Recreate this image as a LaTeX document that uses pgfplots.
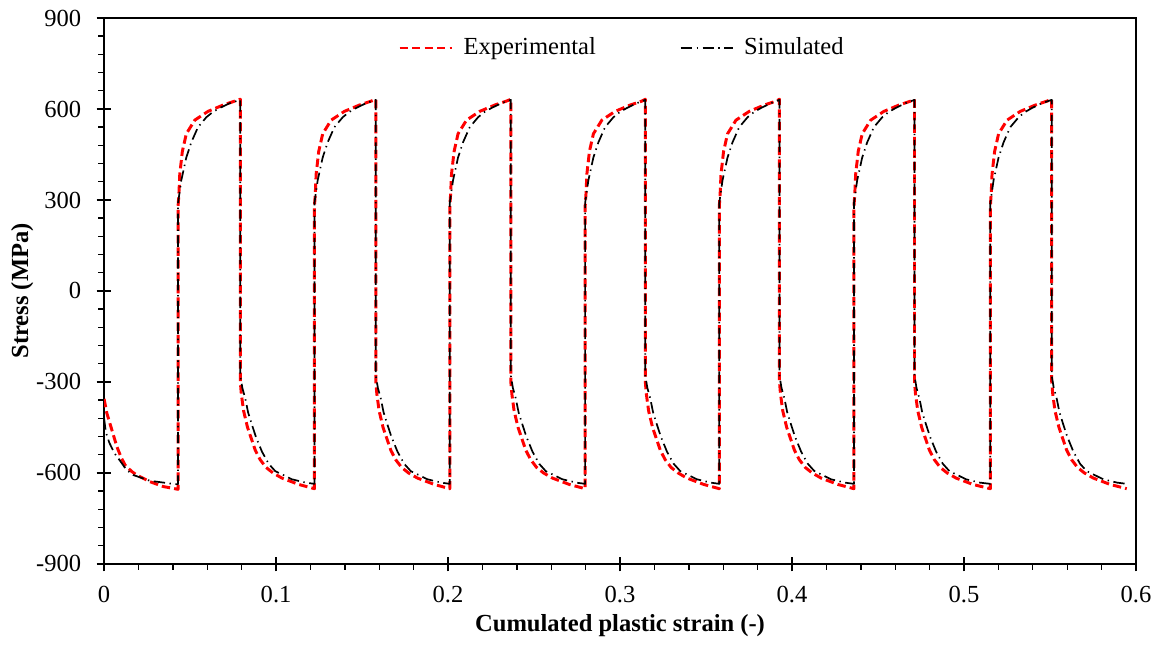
\documentclass[border=0pt]{standalone}
\usepackage{fontspec}
\setmainfont{Liberation Serif}
\usepackage{pgfplots}
\pgfplotsset{compat=1.18}
\begin{document}
\fontsize{10.8}{13}\selectfont
\begin{tikzpicture}
\begin{axis}[
  scale only axis, width=454pt, height=240.2pt,
  xmin=0, xmax=0.6, ymin=-900, ymax=900,
  xtick={0,0.1,0.2,0.3,0.4,0.5,0.6}, xticklabels={0,0.1,0.2,0.3,0.4,0.5,0.6},
  ytick={-900,-600,-300,0,300,600,900}, yticklabels={-900,-600,-300,0,300,600,900},
  minor x tick num=4, minor y tick num=4,
  tick align=outside, tick pos=left,
  major tick length=3.3pt, minor tick length=2.5pt,
  extra x ticks={0.1,0.2,0.3,0.4,0.5}, extra x tick labels={},
  extra x tick style={tick align=inside, major tick length=3pt},
  extra y ticks={-600,-300,0,300,600}, extra y tick labels={},
  extra y tick style={tick align=inside, major tick length=3pt},
  axis line style={line width=0.9pt},
  every tick/.style={black, line width=0.6pt},
  tick label style={font=\fontsize{10.8}{13}\selectfont},
  xticklabel style={yshift=-2.5pt},
  yticklabel style={xshift=-3pt},
  xlabel={\textbf{Cumulated plastic strain (-)}},
  ylabel={\textbf{Stress (MPa)}},
  every axis x label/.style={at={(axis description cs:0.5,0)}, yshift=-18.5pt, anchor=north, font=\fontsize{10.8}{13}\selectfont},
  every axis y label/.style={at={(axis description cs:0,0.5)}, xshift=-36pt, rotate=90, anchor=center, font=\fontsize{10.8}{13}\selectfont},
  legend style={at={(0.503,0.945)}, anchor=center, draw=none, fill=none,
    legend columns=2, /tikz/every even column/.append style={column sep=35pt},
    /tikz/every odd column/.append style={column sep=2.5pt},
    font=\fontsize{10.8}{13}\selectfont},
  legend image code/.code={\draw[#1] (0pt,0pt) -- (23pt,0pt);},
]
\addplot[red, line width=1.3pt, dash pattern=on 3.7pt off 1.8pt, line join=round] coordinates {
(0,-356) (0.0016,-403) (0.0045,-458) (0.0074,-513) (0.0100,-550) (0.0122,-574) (0.0160,-595) (0.0190,-607) (0.0267,-629) (0.0345,-645) (0.0430,-654)
(0.0430,278) (0.0435,320) (0.0440,385) (0.0455,460) (0.0478,518) (0.0527,563) (0.0604,592) (0.0692,613) (0.0760,626) (0.0792,632)
(0.0792,-300) (0.0798,-340) (0.0811,-395) (0.0834,-450) (0.0879,-525) (0.0907,-556) (0.0942,-582) (0.0982,-600) (0.1034,-617) (0.1132,-638) (0.1223,-652)
(0.1223,278) (0.1228,320) (0.1233,385) (0.1248,460) (0.1271,518) (0.1320,563) (0.1397,592) (0.1485,613) (0.1553,626) (0.1580,632)
(0.1580,-300) (0.1586,-340) (0.1599,-395) (0.1622,-450) (0.1667,-525) (0.1695,-556) (0.1730,-582) (0.1770,-600) (0.1822,-617) (0.1920,-638) (0.2010,-652)
(0.2010,278) (0.2015,320) (0.2020,385) (0.2035,460) (0.2058,518) (0.2107,563) (0.2184,592) (0.2272,613) (0.2340,626) (0.2365,632)
(0.2365,-300) (0.2371,-340) (0.2384,-395) (0.2407,-450) (0.2452,-525) (0.2480,-556) (0.2515,-582) (0.2555,-600) (0.2607,-617) (0.2705,-638) (0.2797,-652)
(0.2797,278) (0.2802,320) (0.2807,385) (0.2822,460) (0.2845,518) (0.2894,563) (0.2971,592) (0.3059,613) (0.3127,626) (0.3147,632)
(0.3147,-300) (0.3153,-340) (0.3166,-395) (0.3189,-450) (0.3234,-525) (0.3262,-556) (0.3297,-582) (0.3337,-600) (0.3389,-617) (0.3487,-638) (0.3577,-652)
(0.3577,278) (0.3582,320) (0.3587,385) (0.3602,460) (0.3625,518) (0.3674,563) (0.3751,592) (0.3839,613) (0.3907,626) (0.3927,632)
(0.3927,-300) (0.3933,-340) (0.3946,-395) (0.3969,-450) (0.4014,-525) (0.4042,-556) (0.4077,-582) (0.4117,-600) (0.4169,-617) (0.4267,-638) (0.4360,-652)
(0.4360,278) (0.4365,320) (0.4370,385) (0.4385,460) (0.4408,518) (0.4457,563) (0.4534,592) (0.4622,613) (0.4690,626) (0.4712,632)
(0.4712,-300) (0.4718,-340) (0.4731,-395) (0.4754,-450) (0.4799,-525) (0.4827,-556) (0.4862,-582) (0.4902,-600) (0.4954,-617) (0.5052,-638) (0.5153,-652)
(0.5153,278) (0.5158,320) (0.5163,385) (0.5178,460) (0.5201,518) (0.5250,563) (0.5327,592) (0.5415,613) (0.5483,626) (0.5510,632)
(0.5510,-300) (0.5516,-340) (0.5529,-395) (0.5552,-450) (0.5597,-525) (0.5625,-556) (0.5660,-582) (0.5700,-600) (0.5752,-617) (0.5850,-638) (0.5946,-652)
};
\addlegendentry{Experimental}
\addplot[black, line width=0.75pt, dash pattern=on 5pt off 2pt on 0.6pt off 2pt, line join=round] coordinates {
(0,-420) (0.0010,-465) (0.0030,-500) (0.0060,-535) (0.0093,-560) (0.0130,-590) (0.0170,-607) (0.0267,-626) (0.0413,-637) (0.0430,-637)
(0.0430,290) (0.0440,330) (0.0449,365) (0.0478,440) (0.0507,490) (0.0546,540) (0.0595,573) (0.0632,590) (0.0672,603) (0.0730,619) (0.0792,630)
(0.0792,-280) (0.0804,-320) (0.0821,-355) (0.0837,-400) (0.0859,-440) (0.0882,-480) (0.0918,-530) (0.0957,-570) (0.0995,-594) (0.1092,-621) (0.1172,-632) (0.1223,-636)
(0.1223,290) (0.1233,330) (0.1242,365) (0.1271,440) (0.1300,490) (0.1339,540) (0.1388,573) (0.1425,590) (0.1465,603) (0.1523,619) (0.1580,630)
(0.1580,-280) (0.1592,-320) (0.1609,-355) (0.1625,-400) (0.1647,-440) (0.1670,-480) (0.1706,-530) (0.1745,-570) (0.1783,-594) (0.1880,-621) (0.1960,-632) (0.2010,-636)
(0.2010,290) (0.2020,330) (0.2029,365) (0.2058,440) (0.2087,490) (0.2126,540) (0.2175,573) (0.2212,590) (0.2252,603) (0.2310,619) (0.2365,630)
(0.2365,-280) (0.2377,-320) (0.2394,-355) (0.2410,-400) (0.2432,-440) (0.2455,-480) (0.2491,-530) (0.2530,-570) (0.2568,-594) (0.2665,-621) (0.2745,-632) (0.2797,-636)
(0.2797,290) (0.2807,330) (0.2816,365) (0.2845,440) (0.2874,490) (0.2913,540) (0.2962,573) (0.2999,590) (0.3039,603) (0.3097,619) (0.3147,630)
(0.3147,-280) (0.3159,-320) (0.3176,-355) (0.3192,-400) (0.3214,-440) (0.3237,-480) (0.3273,-530) (0.3312,-570) (0.3350,-594) (0.3447,-621) (0.3527,-632) (0.3577,-636)
(0.3577,290) (0.3587,330) (0.3596,365) (0.3625,440) (0.3654,490) (0.3693,540) (0.3742,573) (0.3779,590) (0.3819,603) (0.3877,619) (0.3927,630)
(0.3927,-280) (0.3939,-320) (0.3956,-355) (0.3972,-400) (0.3994,-440) (0.4017,-480) (0.4053,-530) (0.4092,-570) (0.4130,-594) (0.4227,-621) (0.4307,-632) (0.4360,-636)
(0.4360,290) (0.4370,330) (0.4379,365) (0.4408,440) (0.4437,490) (0.4476,540) (0.4525,573) (0.4562,590) (0.4602,603) (0.4660,619) (0.4712,630)
(0.4712,-280) (0.4724,-320) (0.4741,-355) (0.4757,-400) (0.4779,-440) (0.4802,-480) (0.4838,-530) (0.4877,-570) (0.4915,-594) (0.5012,-621) (0.5092,-632) (0.5153,-636)
(0.5153,290) (0.5163,330) (0.5172,365) (0.5201,440) (0.5230,490) (0.5269,540) (0.5318,573) (0.5355,590) (0.5395,603) (0.5453,619) (0.5510,630)
(0.5510,-280) (0.5522,-320) (0.5539,-355) (0.5555,-400) (0.5577,-440) (0.5600,-480) (0.5636,-530) (0.5675,-570) (0.5713,-594) (0.5810,-621) (0.5890,-632) (0.5946,-636)
};
\addlegendentry{Simulated}
\end{axis}
\path (current axis.south west) ++(-45.8pt,-36.1pt) rectangle ++(510.8pt,284.2pt);
\end{tikzpicture}
\end{document}
